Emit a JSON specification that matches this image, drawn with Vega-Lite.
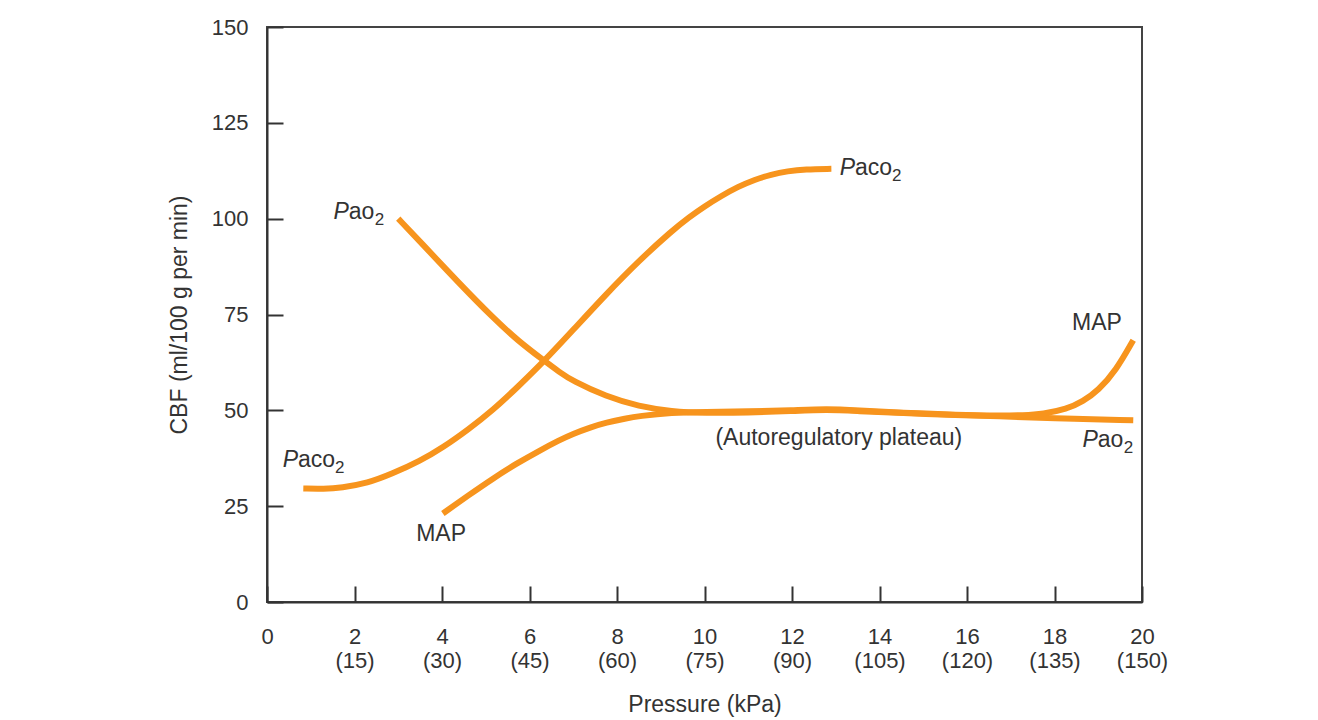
{
  "$schema": "https://vega.github.io/schema/vega-lite/v6.json",
  "width": 875,
  "height": 575,
  "autosize": {"type": "none"},
  "padding": {"left": 267, "top": 27, "right": 176, "bottom": 118},
  "background": "white",
  "config": {
    "view": {"stroke": "#444", "strokeWidth": 2},
    "font": "Liberation Sans"
  },
  "datasets": {
    "curves": [
      {"series": "Paco2", "x": 0.83, "y": 29.6},
      {"series": "Paco2", "x": 1.3, "y": 29.5},
      {"series": "Paco2", "x": 1.7, "y": 29.8},
      {"series": "Paco2", "x": 2.3, "y": 31.0},
      {"series": "Paco2", "x": 2.85, "y": 33.4},
      {"series": "Paco2", "x": 3.5, "y": 36.8},
      {"series": "Paco2", "x": 4.02, "y": 40.3},
      {"series": "Paco2", "x": 4.6, "y": 45.0},
      {"series": "Paco2", "x": 5.16, "y": 50.0},
      {"series": "Paco2", "x": 5.75, "y": 56.3},
      {"series": "Paco2", "x": 6.34, "y": 62.9},
      {"series": "Paco2", "x": 7.0, "y": 71.0},
      {"series": "Paco2", "x": 7.75, "y": 80.3},
      {"series": "Paco2", "x": 8.5, "y": 89.0},
      {"series": "Paco2", "x": 9.25, "y": 96.8},
      {"series": "Paco2", "x": 9.65, "y": 100.4},
      {"series": "Paco2", "x": 10.0, "y": 103.2},
      {"series": "Paco2", "x": 10.38, "y": 105.9},
      {"series": "Paco2", "x": 10.76, "y": 108.3},
      {"series": "Paco2", "x": 11.15, "y": 110.2},
      {"series": "Paco2", "x": 11.52, "y": 111.5},
      {"series": "Paco2", "x": 11.9, "y": 112.4},
      {"series": "Paco2", "x": 12.3, "y": 112.9},
      {"series": "Paco2", "x": 12.9, "y": 113.0},
      {"series": "Pao2", "x": 3.0, "y": 100.0},
      {"series": "Pao2", "x": 3.5, "y": 94.0},
      {"series": "Pao2", "x": 4.41, "y": 82.9},
      {"series": "Pao2", "x": 5.16, "y": 74.2},
      {"series": "Pao2", "x": 5.75, "y": 68.0},
      {"series": "Pao2", "x": 6.34, "y": 62.9},
      {"series": "Pao2", "x": 6.68, "y": 60.0},
      {"series": "Pao2", "x": 6.98, "y": 57.7},
      {"series": "Pao2", "x": 7.75, "y": 53.6},
      {"series": "Pao2", "x": 8.5, "y": 51.0},
      {"series": "Pao2", "x": 9.25, "y": 49.7},
      {"series": "Pao2", "x": 10.0, "y": 49.3},
      {"series": "Pao2", "x": 11.0, "y": 49.4},
      {"series": "Pao2", "x": 12.0, "y": 49.8},
      {"series": "Pao2", "x": 12.8, "y": 50.2},
      {"series": "Pao2", "x": 13.5, "y": 49.8},
      {"series": "Pao2", "x": 14.5, "y": 49.3},
      {"series": "Pao2", "x": 15.8, "y": 48.7},
      {"series": "Pao2", "x": 16.7, "y": 48.5},
      {"series": "Pao2", "x": 17.9, "y": 47.9},
      {"series": "Pao2", "x": 19.8, "y": 47.4},
      {"series": "MAP", "x": 4.02, "y": 23.1},
      {"series": "MAP", "x": 4.6, "y": 27.8},
      {"series": "MAP", "x": 5.16, "y": 32.2},
      {"series": "MAP", "x": 5.7, "y": 36.1},
      {"series": "MAP", "x": 6.23, "y": 39.5},
      {"series": "MAP", "x": 6.68, "y": 42.2},
      {"series": "MAP", "x": 6.98, "y": 43.8},
      {"series": "MAP", "x": 7.4, "y": 45.6},
      {"series": "MAP", "x": 7.75, "y": 46.8},
      {"series": "MAP", "x": 8.2, "y": 47.9},
      {"series": "MAP", "x": 8.5, "y": 48.5},
      {"series": "MAP", "x": 9.25, "y": 49.4},
      {"series": "MAP", "x": 10.0, "y": 49.6},
      {"series": "MAP", "x": 11.0, "y": 49.7},
      {"series": "MAP", "x": 12.0, "y": 50.0},
      {"series": "MAP", "x": 12.8, "y": 50.4},
      {"series": "MAP", "x": 13.5, "y": 50.0},
      {"series": "MAP", "x": 14.5, "y": 49.4},
      {"series": "MAP", "x": 15.8, "y": 48.8},
      {"series": "MAP", "x": 16.7, "y": 48.6},
      {"series": "MAP", "x": 17.3, "y": 48.7},
      {"series": "MAP", "x": 17.73, "y": 49.0},
      {"series": "MAP", "x": 18.28, "y": 50.3},
      {"series": "MAP", "x": 18.65, "y": 52.3},
      {"series": "MAP", "x": 19.0, "y": 55.2},
      {"series": "MAP", "x": 19.4, "y": 60.3},
      {"series": "MAP", "x": 19.8, "y": 68.3}
    ],
    "plabels": [
      {"x": 1.87, "y": 99.8, "p": "P", "rest": "ao", "sub": "2"},
      {"x": 13.44, "y": 111.4, "p": "P", "rest": "aco", "sub": "2"},
      {"x": 0.71, "y": 35.2, "p": "P", "rest": "aco", "sub": "2"},
      {"x": 18.99, "y": 40.4, "p": "P", "rest": "ao", "sub": "2"}
    ],
    "tlabels": [
      {"x": 3.98, "y": 15.9, "t": "MAP"},
      {"x": 18.97, "y": 71.0, "t": "MAP"},
      {"x": 13.07, "y": 41.0, "t": "(Autoregulatory plateau)"}
    ]
  },
  "layer": [
    {
      "data": {"name": "curves"},
      "mark": {"type": "line", "color": "#F7941D", "strokeWidth": 6, "interpolate": "basis", "strokeCap": "butt"},
      "encoding": {
        "x": {
          "field": "x", "type": "quantitative",
          "scale": {"domain": [0, 20], "nice": false},
          "axis": {
            "title": "Pressure (kPa)",
            "values": [0, 2, 4, 6, 8, 10, 12, 14, 16, 18, 20],
            "grid": false,
            "tickSize": -16, "tickWidth": 2, "tickColor": "#333",
            "domainColor": "#333", "domainWidth": 2,
            "labelPadding": 40, "labelFontSize": 22, "labelColor": "#333",
            "labelLineHeight": 24, "labelFlush": false, "labelOverlap": false,
            "labelExpr": "datum.value == 0 ? '0' : [datum.label, '(' + format(datum.value * 7.5, 'd') + ')']",
            "titleFontSize": 23, "titleFontWeight": "normal", "titleColor": "#333", "titlePadding": 22
          }
        },
        "y": {
          "field": "y", "type": "quantitative",
          "scale": {"domain": [0, 150], "nice": false},
          "axis": {
            "title": "CBF (ml/100 g per min)",
            "values": [0, 25, 50, 75, 100, 125, 150],
            "grid": false,
            "tickSize": -16, "tickWidth": 2, "tickColor": "#333",
            "domainColor": "#333", "domainWidth": 2,
            "labelPadding": 35, "labelFontSize": 22, "labelColor": "#333",
            "labelFlush": false, "labelOverlap": false,
            "titleFontSize": 23, "titleFontWeight": "normal", "titleColor": "#333", "titlePadding": 20
          }
        },
        "detail": {"field": "series"}
      }
    },
    {
      "data": {"name": "plabels"},
      "mark": {"type": "text", "align": "right", "baseline": "alphabetic", "fontSize": 23, "fontStyle": "italic", "color": "#333"},
      "encoding": {
        "x": {"field": "x", "type": "quantitative"},
        "y": {"field": "y", "type": "quantitative"},
        "text": {"field": "p"}
      }
    },
    {
      "data": {"name": "plabels"},
      "mark": {"type": "text", "align": "left", "baseline": "alphabetic", "fontSize": 23, "color": "#333"},
      "encoding": {
        "x": {"field": "x", "type": "quantitative"},
        "y": {"field": "y", "type": "quantitative"},
        "text": {"field": "rest"}
      }
    },
    {
      "data": {"name": "plabels"},
      "transform": [{"filter": "datum.rest == 'ao'"}],
      "mark": {"type": "text", "align": "left", "baseline": "alphabetic", "fontSize": 17, "color": "#333", "dx": 26, "dy": 6},
      "encoding": {
        "x": {"field": "x", "type": "quantitative"},
        "y": {"field": "y", "type": "quantitative"},
        "text": {"field": "sub"}
      }
    },
    {
      "data": {"name": "plabels"},
      "transform": [{"filter": "datum.rest == 'aco'"}],
      "mark": {"type": "text", "align": "left", "baseline": "alphabetic", "fontSize": 17, "color": "#333", "dx": 37, "dy": 6},
      "encoding": {
        "x": {"field": "x", "type": "quantitative"},
        "y": {"field": "y", "type": "quantitative"},
        "text": {"field": "sub"}
      }
    },
    {
      "data": {"name": "tlabels"},
      "mark": {"type": "text", "align": "center", "baseline": "alphabetic", "fontSize": 23, "color": "#333"},
      "encoding": {
        "x": {"field": "x", "type": "quantitative"},
        "y": {"field": "y", "type": "quantitative"},
        "text": {"field": "t"}
      }
    }
  ]
}
